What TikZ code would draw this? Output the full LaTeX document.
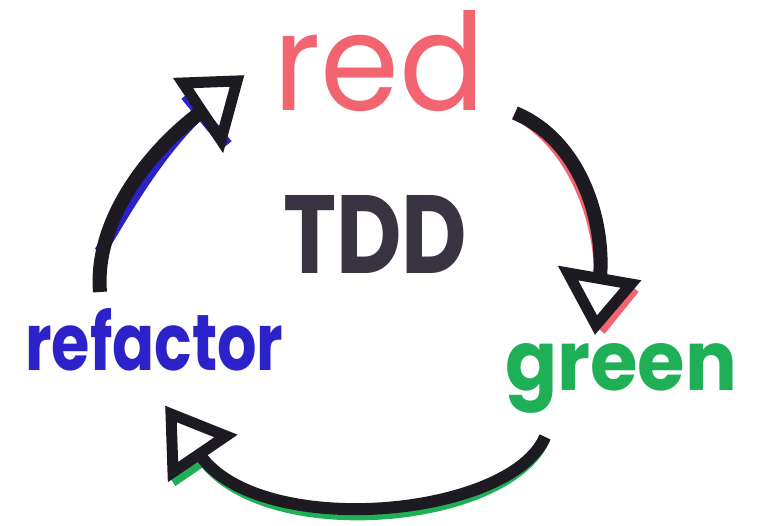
\documentclass[tikz,border=0pt]{standalone}
\usepackage{graphicx}
\usepackage{fontspec}
\setmainfont{Poppins}
\definecolor{redpen}{HTML}{F2646F}
\definecolor{greenpen}{HTML}{1EAF57}
\definecolor{bluepen}{HTML}{2B22C9}
\definecolor{inkpen}{HTML}{3A3342}
\definecolor{markerblack}{HTML}{1E1A22}
\tikzset{
  word/.style={inner sep=0pt, anchor=base west},
  shaft/.style={line width=14pt, line cap=butt, draw=markerblack},
  headtri/.style={line width=11pt, line join=miter, draw=markerblack},
  shadow/.style={line width=12pt, line cap=butt, line join=miter}
}
\begin{document}
\begin{tikzpicture}[x=1pt,y=-1pt]
\useasboundingbox (0,0) rectangle (758,525);

% labels
\node[word, text=redpen] (red) at (273,110) {\resizebox{212pt}{100pt}{red}};
\node[word, text=greenpen] (green) at (505,390) {\resizebox{232pt}{47pt}{\bfseries green}};
\node[word, text=bluepen] (refactor) at (25,370) {\resizebox{258pt}{62pt}{\bfseries refactor}};
\node[word, text=inkpen] (tdd) at (283,273) {\resizebox{184pt}{78pt}{\bfseries TDD}};

% arrow ends
\coordinate (a1s) at (100,292);
\coordinate (a1e) at (201,112);
\coordinate (a2s) at (515,113);
\coordinate (a2e) at (600,278);
\coordinate (a3s) at (545,437);
\coordinate (a3e) at (200,455);

% refactor -> red
\begin{scope}[shift={(5,5)}]
  \draw[shadow, bluepen] (a1s) ++(0,-40) .. controls (115,215) and (150,150) .. (a1e);
  \draw[shadow, bluepen] (181,90) -- (222,140);
\end{scope}
\draw[shaft] (a1s) .. controls (94,220) and (150,150) .. (a1e);
\draw[headtri] (183,83) -- (237,81) -- (221,140) -- cycle;

% red -> green
\begin{scope}[shift={(-4,5)}]
  \draw[shadow, redpen] (a2s) .. controls (580,140) and (605,220) .. (a2e);
\end{scope}
\draw[shadow, redpen] (634,288) -- (600,330);
\draw[shaft] (a2s) .. controls (580,140) and (605,220) .. (a2e);
\draw[headtri] (568,273) -- (631,284) -- (596,325) -- cycle;

% green -> refactor
\begin{scope}[shift={(0,7)}]
  \draw[shadow, greenpen] (a3s) .. controls (510,518) and (260,540) .. (a3e);
  \draw[shadow, greenpen] (172,474) -- (200,455);
\end{scope}
\draw[shaft, line width=12pt] (a3s) .. controls (510,518) and (260,540) .. (a3e);
\draw[headtri] (171,414) -- (226,436) -- (173,472) -- cycle;
\end{tikzpicture}
\end{document}
